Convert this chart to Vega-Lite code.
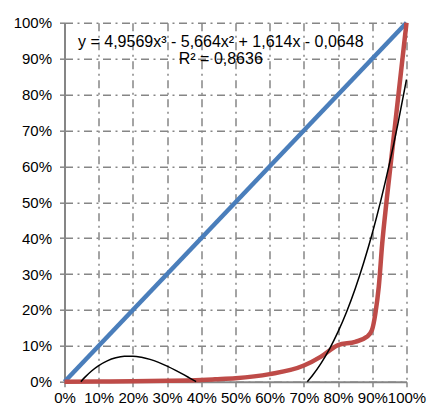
{
  "$schema": "https://vega.github.io/schema/vega-lite/v6.json",
  "width": 342,
  "height": 359,
  "autosize": {"type": "none"},
  "padding": {"left": 64.5, "top": 22.7, "right": 20.5, "bottom": 25.3},
  "background": "white",
  "config": {
    "view": {"stroke": null},
    "font": "Liberation Sans",
    "axis": {
      "labelFont": "Liberation Sans",
      "labelFontSize": 15,
      "labelColor": "#000000",
      "domainColor": "#868686",
      "domainWidth": 2,
      "tickColor": "#868686",
      "tickWidth": 1.5,
      "tickSize": 5,
      "gridColor": "#868686",
      "gridWidth": 1.5,
      "gridDash": [8, 4.5, 2, 4.5],
      "gridOpacity": 1,
      "labelOverlap": false,
      "labelFlush": false,
      "labelBound": false,
      "title": null
    }
  },
  "datasets": {
    "lines": [
      {"series": "eq", "x": 0, "y": 0},
      {"series": "eq", "x": 1, "y": 1},
      {"series": "real", "x": 0, "y": 0},
      {"series": "real", "x": 0.1, "y": 0.0005},
      {"series": "real", "x": 0.2, "y": 0.001},
      {"series": "real", "x": 0.3, "y": 0.0025},
      {"series": "real", "x": 0.4, "y": 0.005},
      {"series": "real", "x": 0.44, "y": 0.0067},
      {"series": "real", "x": 0.5, "y": 0.0095},
      {"series": "real", "x": 0.6, "y": 0.021},
      {"series": "real", "x": 0.7, "y": 0.045},
      {"series": "real", "x": 0.75, "y": 0.07},
      {"series": "real", "x": 0.8, "y": 0.102},
      {"series": "real", "x": 0.85, "y": 0.111},
      {"series": "real", "x": 0.884, "y": 0.125},
      {"series": "real", "x": 0.899, "y": 0.144},
      {"series": "real", "x": 0.909, "y": 0.19},
      {"series": "real", "x": 0.919, "y": 0.265},
      {"series": "real", "x": 0.929, "y": 0.385},
      {"series": "real", "x": 0.942, "y": 0.506},
      {"series": "real", "x": 1, "y": 1}
    ],
    "trend": [
      {"seg": "a", "x": 0.04785, "y": 0},
      {"seg": "a", "x": 0.06, "y": 0.01272},
      {"seg": "a", "x": 0.08, "y": 0.03061},
      {"seg": "a", "x": 0.1, "y": 0.04492},
      {"seg": "a", "x": 0.125, "y": 0.05813},
      {"seg": "a", "x": 0.15, "y": 0.06659},
      {"seg": "a", "x": 0.175, "y": 0.07076},
      {"seg": "a", "x": 0.2, "y": 0.0711},
      {"seg": "a", "x": 0.225, "y": 0.06807},
      {"seg": "a", "x": 0.25, "y": 0.06215},
      {"seg": "a", "x": 0.275, "y": 0.0538},
      {"seg": "a", "x": 0.3, "y": 0.04348},
      {"seg": "a", "x": 0.325, "y": 0.03165},
      {"seg": "a", "x": 0.35, "y": 0.01879},
      {"seg": "a", "x": 0.365, "y": 0.01076},
      {"seg": "a", "x": 0.3849, "y": 0},
      {"seg": "b", "x": 0.70995, "y": 0},
      {"seg": "b", "x": 0.725, "y": 0.01718},
      {"seg": "b", "x": 0.75, "y": 0.05089},
      {"seg": "b", "x": 0.775, "y": 0.09147},
      {"seg": "b", "x": 0.8, "y": 0.13937},
      {"seg": "b", "x": 0.825, "y": 0.19507},
      {"seg": "b", "x": 0.85, "y": 0.25902},
      {"seg": "b", "x": 0.875, "y": 0.33199},
      {"seg": "b", "x": 0.9, "y": 0.41354},
      {"seg": "b", "x": 0.925, "y": 0.50505},
      {"seg": "b", "x": 0.95, "y": 0.60666},
      {"seg": "b", "x": 0.975, "y": 0.71886},
      {"seg": "b", "x": 1, "y": 0.8421}
    ],
    "notes": [
      {"label": "y = 4,9569x³ - 5,664x² + 1,614x - 0,0648", "x": 0.457, "y": 0.946},
      {"label": "R² = 0,8636", "x": 0.457, "y": 0.899}
    ]
  },
  "encoding": {
    "x": {
      "field": "x", "type": "quantitative",
      "scale": {"domain": [0, 1], "nice": false, "zero": false},
      "axis": {"format": ".0%", "values": [0, 0.1, 0.2, 0.3, 0.4, 0.5, 0.6, 0.7, 0.8, 0.9, 1], "labelPadding": 4}
    },
    "y": {
      "field": "y", "type": "quantitative",
      "scale": {"domain": [0, 1], "nice": false, "zero": false},
      "axis": {"format": ".0%", "values": [0, 0.1, 0.2, 0.3, 0.4, 0.5, 0.6, 0.7, 0.8, 0.9, 1], "labelPadding": 8}
    }
  },
  "layer": [
    {
      "data": {"name": "lines"},
      "mark": {"type": "line", "strokeWidth": 4.5, "interpolate": "monotone", "strokeCap": "butt", "strokeJoin": "round", "clip": false},
      "encoding": {
        "color": {
          "field": "series", "type": "nominal",
          "scale": {"domain": ["eq", "real"], "range": ["#4A7EBB", "#BE4B48"]},
          "legend": null
        },
        "order": {"field": "x", "type": "quantitative"}
      }
    },
    {
      "data": {"name": "trend"},
      "mark": {"type": "line", "strokeWidth": 1.5, "color": "#000000", "interpolate": "monotone"},
      "encoding": {
        "detail": {"field": "seg", "type": "nominal"}
      }
    },
    {
      "data": {"name": "notes"},
      "mark": {"type": "text", "fontSize": 16, "font": "Liberation Sans", "color": "#000000", "align": "center", "baseline": "middle"},
      "encoding": {
        "text": {"field": "label"}
      }
    }
  ]
}
